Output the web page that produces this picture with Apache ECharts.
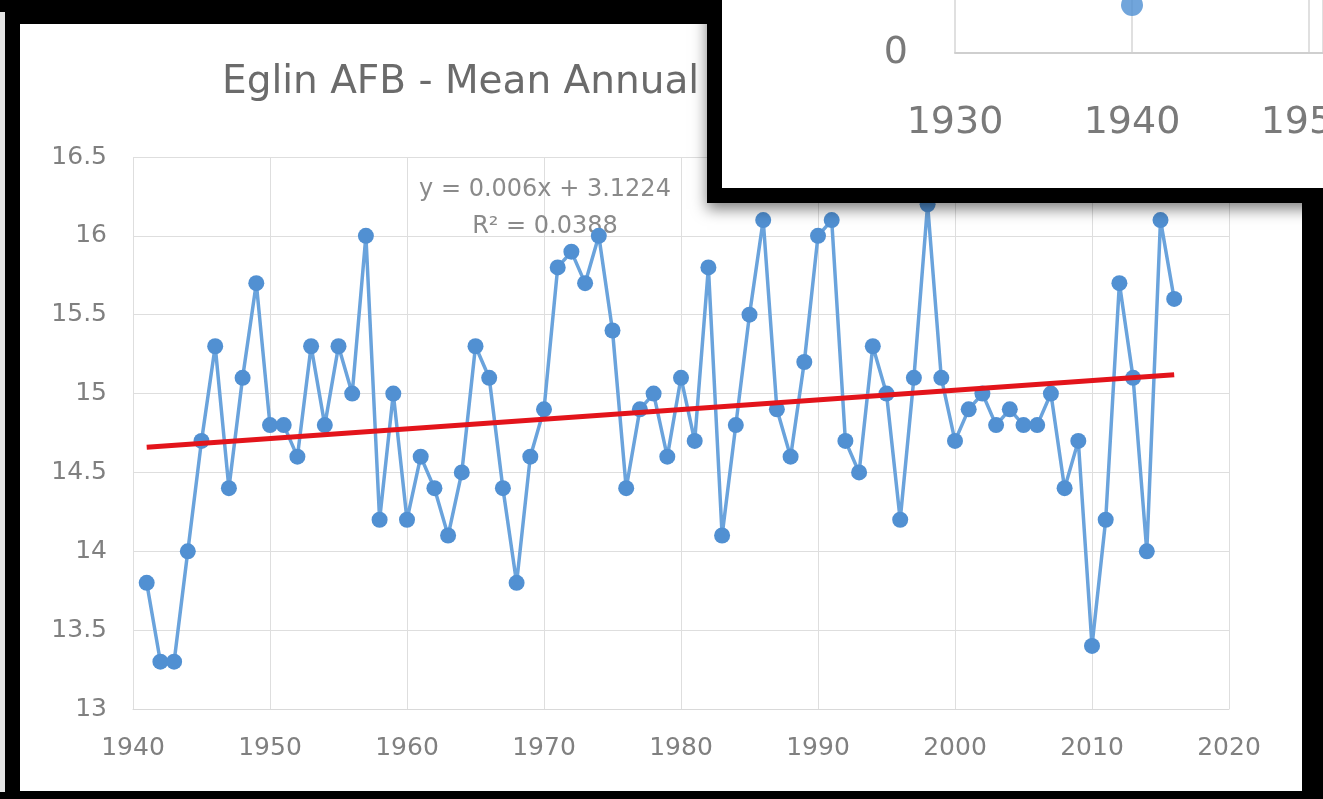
<!DOCTYPE html>
<html>
<head>
<meta charset="utf-8">
<script src="https://cdn.jsdelivr.net/npm/echarts@6/dist/echarts.min.js"></script>
<style>
  html, body { margin: 0; padding: 0; background: #000; width: 1323px; height: 799px; overflow: hidden; }
  #strip { position: absolute; left: 0; top: 12px; width: 5px; height: 780px; background: #e4e4e4; }
  #frame { position: absolute; left: 20px; top: 24px; width: 1282px; height: 767px; background: #fff; }
  #chart { position: absolute; left: 0; top: 0; width: 1323px; height: 799px; }
</style>
</head>
<body>
<div id="strip"></div>
<div id="frame"></div>
<div id="chart"></div>
<script>
// ---- data ----
const years = [1941,1942,1943,1944,1945,1946,1947,1948,1949,1950,
               1951,1952,1953,1954,1955,1956,1957,1958,1959,1960,
               1961,1962,1963,1964,1965,1966,1967,1968,1969,1970,
               1971,1972,1973,1974,1975,1976,1977,1978,1979,1980,
               1981,1982,1983,1984,1985,1986,1987,1988,1989,1990,
               1991,1992,1993,1994,1995,1996,1997,1998,1999,2000,
               2001,2002,2003,2004,2005,2006,2007,2008,2009,2010,
               2011,2012,2013,2014,2015,2016];
const meanTemp = [13.8,13.3,13.3,14.0,14.7,15.3,14.4,15.1,15.7,14.8,
                  14.8,14.6,15.3,14.8,15.3,15.0,16.0,14.2,15.0,14.2,
                  14.6,14.4,14.1,14.5,15.3,15.1,14.4,13.8,14.6,14.9,
                  15.8,15.9,15.7,16.0,15.4,14.4,14.9,15.0,14.6,15.1,
                  14.7,15.8,14.1,14.8,15.5,16.1,14.9,14.6,15.2,16.0,
                  16.1,14.7,14.5,15.3,15.0,14.2,15.1,16.2,15.1,14.7,
                  14.9,15.0,14.8,14.9,14.8,14.8,15.0,14.4,14.7,13.4,
                  14.2,15.7,15.1,14.0,16.1,15.6];
const trendYears = [1941, 2016];
const trendValues = [14.66, 15.12];
const titleText = 'Eglin AFB - Mean Annual Temperature';
const equationText = 'y = 0.006x + 3.1224';
const r2Text = 'R\u00b2 = 0.0388';

// inset (overlapping second chart, only its lower-left corner is visible)
const insetYears = [1940];
const insetValues = [4.8];
const insetXMin = 1930, insetXMax = 1950.79;
const insetYMin = 0, insetYMax = 5.3;

// ---- chart ----
const FONT = 'DejaVu Sans';
const chart = echarts.init(document.getElementById('chart'), null, { renderer: 'canvas' });

const option = {
  animation: false,
  backgroundColor: 'transparent',
  grid: [
    { left: 133, top: 157, width: 1096, height: 552, containLabel: false, outerBoundsMode: 'none' },
    { left: 955, top: 0, width: 368, height: 53, containLabel: false, outerBoundsMode: 'none', zlevel: 1, z: 10 }
  ],
  xAxis: [
    {
      type: 'value', gridIndex: 0, min: 1940, max: 2020, interval: 10,
      axisLine: { show: true, lineStyle: { color: '#d9d9d9', width: 1 } },
      axisTick: { show: false },
      splitLine: { show: true, lineStyle: { color: '#dedede', width: 1 } },
      axisLabel: { formatter: v => String(v), color: '#808080', fontFamily: FONT, fontSize: 25, margin: 27 }
    },
    {
      type: 'value', gridIndex: 1, min: insetXMin, max: insetXMax, interval: 10, zlevel: 1, z: 10,
      axisLine: { show: true, lineStyle: { color: '#cfcfcf', width: 2 } },
      axisTick: { show: false },
      splitLine: { show: true, lineStyle: { color: '#d6d6d6', width: 1.5 } },
      axisLabel: { formatter: v => String(v), color: '#7a7a7a', fontFamily: FONT, fontSize: 38, margin: 51, showMaxLabel: false }
    }
  ],
  yAxis: [
    {
      type: 'value', gridIndex: 0, min: 13, max: 16.5, interval: 0.5,
      axisLine: { show: false }, axisTick: { show: false },
      splitLine: { show: true, lineStyle: { color: '#dedede', width: 1 } },
      axisLabel: { color: '#808080', fontFamily: FONT, fontSize: 25, margin: 26 }
    },
    {
      type: 'value', gridIndex: 1, min: insetYMin, max: insetYMax, interval: 10, zlevel: 1, z: 10,
      axisLine: { show: false }, axisTick: { show: false },
      splitLine: { show: false },
      axisLabel: { color: '#7a7a7a', fontFamily: FONT, fontSize: 38, margin: 47, showMaxLabel: false }
    }
  ],
  graphic: [
    { type: 'text', zlevel: 0, z: 1, style: { text: titleText, x: 222, y: 83, fontSize: 39, fontFamily: FONT, fill: '#6b6b6b', align: 'left', verticalAlign: 'middle', textAlign: 'left', textVerticalAlign: 'middle' } },
    { type: 'text', zlevel: 0, z: 1, style: { text: equationText, x: 545, y: 190, fontSize: 24, fontFamily: FONT, fill: '#8a8a8a', align: 'center', verticalAlign: 'middle', textAlign: 'center', textVerticalAlign: 'middle' } },
    { type: 'text', zlevel: 0, z: 1, style: { text: r2Text, x: 545, y: 227, fontSize: 24, fontFamily: FONT, fill: '#8a8a8a', align: 'center', verticalAlign: 'middle', textAlign: 'center', textVerticalAlign: 'middle' } },
    { type: 'rect', zlevel: 1, z: 1, shape: { x: 707, y: -40, width: 700, height: 243 }, style: { fill: '#000', shadowBlur: 14, shadowColor: 'rgba(0,0,0,0.5)', shadowOffsetY: 6 } },
    { type: 'rect', zlevel: 1, z: 2, shape: { x: 722, y: -40, width: 700, height: 228 }, style: { fill: '#fff' } }
  ],
  series: [
    {
      name: 'Mean annual temperature', type: 'line', xAxisIndex: 0, yAxisIndex: 0, z: 3,
      data: years.map((y, i) => [y, meanTemp[i]]),
      symbol: 'circle', symbolSize: 16, showSymbol: true,
      itemStyle: { color: '#5190d2' },
      lineStyle: { color: '#6aa3dc', width: 3.5 }
    },
    {
      name: 'Trend', type: 'line', xAxisIndex: 0, yAxisIndex: 0, z: 4,
      data: trendYears.map((y, i) => [y, trendValues[i]]),
      showSymbol: false, symbol: 'none',
      lineStyle: { color: '#e3141b', width: 5 }
    },
    {
      name: 'Inset', type: 'scatter', xAxisIndex: 1, yAxisIndex: 1, zlevel: 1, z: 11,
      data: insetYears.map((y, i) => [y, insetValues[i]]),
      symbol: 'circle', symbolSize: 22,
      itemStyle: { color: '#4e8fd2' }
    }
  ]
};
chart.setOption(option);
</script>
</body>
</html>
